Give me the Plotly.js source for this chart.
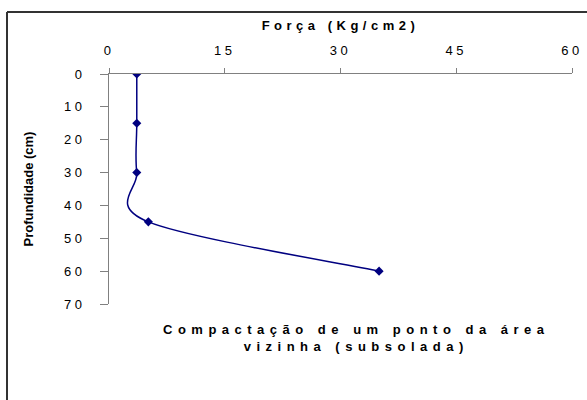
<!DOCTYPE html>
<html>
<head>
<meta charset="utf-8">
<script src="https://cdn.plot.ly/plotly-3.0.1.min.js"></script>
<style>
  html, body { margin: 0; padding: 0; background: #fff; overflow: hidden; }
  #chart { width: 587px; height: 400px; }
  .xtick text, .ytick text { letter-spacing: 3.5px; }
  .g-xtitle text { letter-spacing: 4.5px; }
  .annotation-text { letter-spacing: 5.5px; }
</style>
</head>
<body>
<div id="chart"></div>
<script>
// Data
const depthCm = [0, 15, 30, 45, 60];
const forceKg = [3.6, 3.6, 3.6, 5.1, 35];
const xTicks = [0, 15, 30, 45, 60];
const yTicks = [0, 10, 20, 30, 40, 50, 60, 70];
const xTitle = 'Força (Kg/cm2)';
const yTitle = 'Profundidade (cm)';
const noteLines = ['Compactação de um ponto da área', 'vizinha (subsolada)'];

const navy = '#000080';
const fontFam = 'Liberation Sans, Arial, sans-serif';

// Smoothed line (cubic Bezier through the data points, Catmull-Rom control points),
// drawn in data coordinates through the axes.
function smoothPath(xs, ys) {
  const n = xs.length;
  const px = i => xs[Math.max(0, Math.min(n - 1, i))];
  const py = i => ys[Math.max(0, Math.min(n - 1, i))];
  let d = 'M' + xs[0] + ',' + ys[0];
  for (let i = 0; i < n - 1; i++) {
    const c1x = xs[i] + (px(i + 1) - px(i - 1)) / 6;
    const c1y = ys[i] + (py(i + 1) - py(i - 1)) / 6;
    const c2x = xs[i + 1] - (px(i + 2) - px(i)) / 6;
    const c2y = ys[i + 1] - (py(i + 2) - py(i)) / 6;
    d += ' C' + c1x + ',' + c1y + ' ' + c2x + ',' + c2y + ' ' + xs[i + 1] + ',' + ys[i + 1];
  }
  return d;
}

const trace = {
  x: forceKg,
  y: depthCm,
  type: 'scatter',
  mode: 'markers',
  marker: { symbol: 'diamond', size: 7, color: navy },
  hoverinfo: 'x+y',
  showlegend: false
};

const layout = {
  width: 587,
  height: 400,
  margin: { l: 109, r: 15, t: 74, b: 96 },
  paper_bgcolor: '#ffffff',
  plot_bgcolor: '#ffffff',
  font: { family: fontFam, size: 13, color: '#000' },
  xaxis: {
    side: 'top',
    range: [0, 60],
    tickmode: 'array',
    tickvals: xTicks,
    ticktext: xTicks.map(String),
    ticks: 'outside',
    ticklen: 5,
    tickcolor: '#808080',
    ticklabelstandoff: 8,
    showline: true,
    linecolor: '#808080',
    linewidth: 1,
    showgrid: false,
    zeroline: false,
    tickfont: { family: fontFam, size: 13, color: '#000' },
    title: { text: '<b>' + xTitle + '</b>', font: { family: fontFam, size: 13, color: '#000' }, standoff: 9 }
  },
  yaxis: {
    range: [70, 0],
    tickmode: 'array',
    tickvals: yTicks,
    ticktext: yTicks.map(String),
    ticks: 'outside',
    ticklen: 8,
    tickcolor: '#808080',
    ticklabelstandoff: 12,
    showline: true,
    linecolor: '#808080',
    linewidth: 1,
    showgrid: false,
    zeroline: false,
    tickfont: { family: fontFam, size: 13, color: '#000' },
    title: { text: '<b>' + yTitle + '</b>', font: { family: fontFam, size: 13, color: '#000' }, standoff: 27 }
  },
  annotations: [{
    xref: 'paper', yref: 'paper',
    x: 0.535, y: -0.147,
    xanchor: 'center', yanchor: 'middle',
    align: 'center',
    showarrow: false,
    text: '<b>' + noteLines.join('<br>') + '</b>',
    font: { family: fontFam, size: 13, color: '#000' }
  }],
  shapes: [
    {
      type: 'path', xref: 'x', yref: 'y',
      path: smoothPath(forceKg, depthCm),
      line: { color: navy, width: 1.5 },
      fillcolor: 'rgba(0,0,0,0)',
      layer: 'below'
    },
    {
      type: 'line', xref: 'paper', yref: 'paper',
      x0: -0.2203, x1: -0.2203, y0: -0.6, y1: 1.2696,
      line: { color: '#333333', width: 2 }
    },
    {
      type: 'line', xref: 'paper', yref: 'paper',
      x0: -0.2203, x1: 1.0324, y0: 1.2696, y1: 1.2696,
      line: { color: '#333333', width: 2 }
    }
  ]
};

Plotly.newPlot('chart', [trace], layout, { displayModeBar: false, staticPlot: true });
</script>
</body>
</html>
